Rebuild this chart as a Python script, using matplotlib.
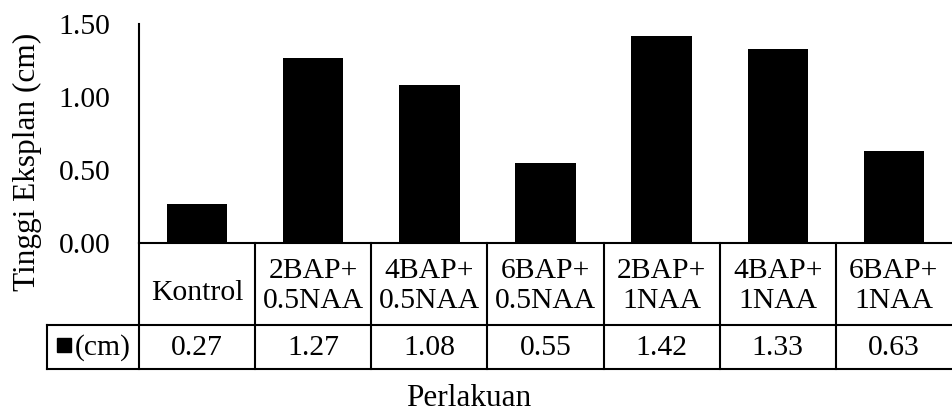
import matplotlib
matplotlib.use("Agg")
import matplotlib.pyplot as plt
from matplotlib.patches import Rectangle

# Data
categories = ["Kontrol", "2BAP+\n0.5NAA", "4BAP+\n0.5NAA", "6BAP+\n0.5NAA",
              "2BAP+\n1NAA", "4BAP+\n1NAA", "6BAP+\n1NAA"]
heights = [0.27, 1.27, 1.08, 0.55, 1.42, 1.33, 0.63]
value_labels = ["0.27", "1.27", "1.08", "0.55", "1.42", "1.33", "0.63"]
yticks = [0.00, 0.50, 1.00, 1.50]
ytick_labels = ["0.00", "0.50", "1.00", "1.50"]
series_name = "(cm)"
y_title = "Tinggi Eksplan (cm)"
x_title = "Perlakuan"

plt.rcParams["font.family"] = ["Liberation Serif", "DejaVu Serif"]
FS = 21.3
FS_TITLE = 22.5
LW = 1.5

W, H = 952, 412
fig = plt.figure(figsize=(W / 100, H / 100), dpi=100)

# layout in pixels (from top-left)
plot_left, plot_right = 139, 952
plot_top, plot_bottom = 24, 243
tab_left, tab_bottom = 47, 369
head_h = 82

def fx(px):
    return px / W

def fy(py):
    return 1 - py / H

n = len(categories)
xmin, xmax = -0.5, n - 0.5

ax = fig.add_axes([fx(plot_left), fy(plot_bottom),
                   fx(plot_right - plot_left), (plot_bottom - plot_top) / H])
ax.bar(range(n), heights, width=0.52, color="black", zorder=3)
ax.set_xlim(xmin, xmax)
ax.set_ylim(0, 1.5)
ax.set_yticks(yticks)
ax.set_yticklabels(ytick_labels, fontsize=FS)
ax.tick_params(axis="y", length=0, pad=20.5)
ax.set_xticks([])
for s in ["top", "right", "bottom"]:
    ax.spines[s].set_visible(False)
ax.spines["left"].set_linewidth(LW)
ax.patch.set_alpha(0)

# data table below the plot, sharing the category positions
unit = (plot_right - plot_left) / (xmax - xmin)
tab_xmin = xmin - (plot_left - tab_left) / unit
tab_h = tab_bottom - plot_bottom
tab = fig.add_axes([fx(tab_left), fy(tab_bottom),
                    fx(plot_right - tab_left), tab_h / H])
tab.set_xlim(tab_xmin, xmax)
tab.set_ylim(tab_h, 0)
tab.axis("off")

kw = dict(color="black", lw=LW, solid_capstyle="projecting", clip_on=False)
tab.plot([xmin, xmax], [0, 0], **kw)
tab.plot([tab_xmin, xmax], [head_h, head_h], **kw)
tab.plot([tab_xmin, xmax], [tab_h, tab_h], **kw)
tab.plot([tab_xmin, tab_xmin], [head_h, tab_h], **kw)
for i in range(n):
    tab.plot([i - 0.5, i - 0.5], [0, tab_h], **kw)

for i, (c, v) in enumerate(zip(categories, value_labels)):
    yc = 43 if "\n" in c else 50
    tab.text(i, yc, c, ha="center", va="center", fontsize=FS, linespacing=1.2)
    tab.text(i, (head_h + tab_h) / 2 + 1, v, ha="center", va="center", fontsize=FS)

# legend key cell
key_x = tab_xmin + (57 - tab_left) / unit
tab.add_patch(Rectangle((key_x, 95), 14 / unit, 14, color="black", clip_on=False))
tab.text(key_x + 18 / unit, (head_h + tab_h) / 2 + 1, series_name,
         ha="left", va="center", fontsize=FS)

fig.text(fx(27), fy(162), y_title, rotation=90, ha="center", va="center", fontsize=FS_TITLE)
fig.text(fx(469), fy(398), x_title, ha="center", va="center", fontsize=FS_TITLE)

fig.savefig("out.png", dpi=100)
